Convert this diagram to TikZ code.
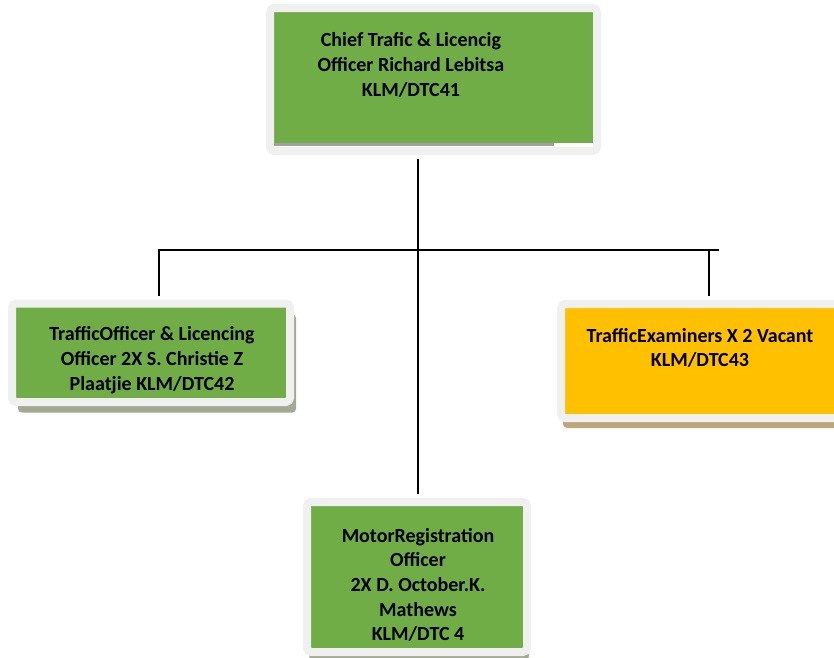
\documentclass[tikz,border=0pt]{standalone}
\usepackage{fontspec}
\setmainfont{Carlito}
\usepackage{tikz}
\usetikzlibrary{fit, shadows}
\usepackage{xcolor}
\definecolor{boxgreen}{HTML}{70AD47}
\definecolor{boxyellow}{HTML}{FFC000}
\definecolor{framegrey}{HTML}{F0F0F0}
\definecolor{shadowgrey}{HTML}{A3A893}
\definecolor{shadowtan}{HTML}{BCA77A}
\definecolor{stripgrey}{HTML}{A0A0A0}

\begin{document}
\begin{tikzpicture}[
    x=0.75pt, y=-0.75pt,
    post/.style={draw=framegrey, line width=6pt, rounded corners=3pt, inner sep=0pt},
    boxtext/.style={align=center, inner sep=0pt,
      font=\bfseries\fontsize{15}{18.5}\selectfont},
    link/.style={line width=1.5pt}
]
  \useasboundingbox (0,0) rectangle (834,657);

  % --- TOP BOX ---
  \node[post, fill=boxgreen, fit={(270,8) (597,151)}] (chief) {};
  \fill[white] (274,143) rectangle (593,147);
  \fill[stripgrey] (274,143) rectangle (554,145.5);
  \node[boxtext] (chieftext) at (411,65)
    {Chief Trafic \& Licencig\\Officer Richard Lebitsa\\KLM/DTC41};

  % --- SECOND ROW ---
  \node[post, fill=boxgreen, fit={(12,303.5) (290,402)},
    drop shadow={shadow xshift=4.5pt, shadow yshift=-8pt, fill=shadowgrey, opacity=1}] (officer) {};
  \node[boxtext] (officertext) at (152,360)
    {TrafficOfficer \& Licencing\\Officer 2X S. Christie Z\\Plaatjie KLM/DTC42};

  \node[post, fill=boxyellow, fit={(561,304) (842,418)},
    drop shadow={shadow xshift=1.5pt, shadow yshift=-7.5pt, fill=shadowtan, opacity=1}] (examiner) {};
  \node[boxtext] (examinertext) at (700,348)
    {TrafficExaminers X 2 Vacant\\KLM/DTC43};

  % --- BOTTOM BOX ---
  \node[post, fill=boxgreen, fit={(307,502) (527,652)},
    drop shadow={shadow xshift=1.5pt, shadow yshift=-6pt, fill=shadowgrey, opacity=1}] (motor) {};
  \node[boxtext] (motortext) at (418,585)
    {MotorRegistration\\Officer\\2X D. October.K.\\Mathews\\KLM/DTC 4};

  % --- DRAWING CONNECTORS ---
  \coordinate (barL) at (159,250);
  \coordinate (barM) at (418,250);
  \coordinate (barR) at (719,250);
  \coordinate (dropR) at (709,250);

  \draw[link, shorten <=3pt] (barL |- officer.north) -- (barL) -- (barR);
  \draw[link, shorten >=3pt] (dropR) -- (dropR |- examiner.north);
  \draw[link, shorten <=3pt, shorten >=3pt] (barM |- chief.south) -- (barM |- motor.north);
\end{tikzpicture}
\end{document}
